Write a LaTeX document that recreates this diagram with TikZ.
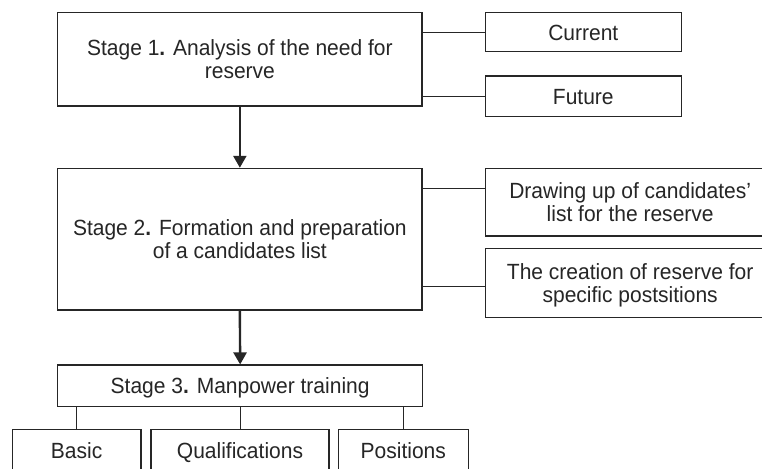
\documentclass[tikz,border=0pt]{standalone}
\usepackage{fontspec}
\setmainfont{Liberation Sans}[FakeStretch=0.955]
\usetikzlibrary{arrows.meta}
\definecolor{ln}{HTML}{262626}
\tikzset{
  box/.style={draw=ln, line width=1.1pt, inner sep=0pt, align=center, text=ln,
    font=\fontsize{22}{23.5}\selectfont, text height=15.7pt, text depth=0pt},
  twoline/.style={text height=39.2pt},
  link/.style={draw=ln, line width=1pt},
  flow/.style={draw=ln, line width=2.4pt, -{Triangle[length=12pt,width=13pt]}},
}
\begin{document}
\begin{tikzpicture}[x=1pt,y=-1pt]
\useasboundingbox (0,0) rectangle (762,468);
\fill[white] (0,0) rectangle (762,468);
\clip (0,0) rectangle (762,468);
% stage 1
\node[box, twoline, minimum width=364.3pt, minimum height=93.3pt] (s1) at (239.85,59.35)
  {Stage 1\textbf{.} Analysis of the need for\\reserve};
\node[box, minimum width=196pt, minimum height=39pt] (cur) at (583.3,32.2) {Current};
\node[box, minimum width=196pt, minimum height=40.7pt] (fut) at (583.3,96.35) {Future};
% stage 2
\node[box, twoline, minimum width=364.3pt, minimum height=141.7pt] (s2) at (239.85,239.15)
  {Stage 2\textbf{.} Formation and preparation\\of a candidates list};
\node[box, twoline, minimum width=289.7pt, minimum height=67.7pt] (dr) at (630.15,202.15)
  {Drawing up of candidates'\\list for the reserve};
\node[box, twoline, minimum width=289.7pt, minimum height=69.4pt] (cr) at (630.15,283)
  {The creation of reserve for\\specific postsitions};
% stage 3
\node[box, minimum width=365pt, minimum height=41.5pt] (s3) at (240.15,385.75)
  {Stage 3\textbf{.} Manpower training};
\node[box, minimum width=128.7pt, minimum height=41.7pt] (ba) at (76.65,450.15) {Basic};
\node[box, minimum width=178pt, minimum height=41.7pt] (qu) at (240,450.15) {Qualifications};
\node[box, minimum width=130pt, minimum height=41.7pt] (po) at (403.3,450.15) {Positions};
% connectors
\draw[link] (cur.west) -- (cur.west -| s1.east);
\draw[link] (fut.west) -- (fut.west -| s1.east);
\draw[link] ([yshift=13.85pt]dr.west) -- ([yshift=13.85pt]dr.west -| s2.east);
\draw[link] ([yshift=-3.7pt]cr.west) -- ([yshift=-3.7pt]cr.west -| s2.east);
\draw[link] (ba.north) -- (ba.north |- s3.south);
\draw[link] (qu.north) -- (qu.north |- s3.south);
\draw[link] (po.north) -- (po.north |- s3.south);
\draw[flow] (s1.south) -- (s2.north);
\draw[flow] (s2.south) -- (s3.north);
\end{tikzpicture}
\end{document}
